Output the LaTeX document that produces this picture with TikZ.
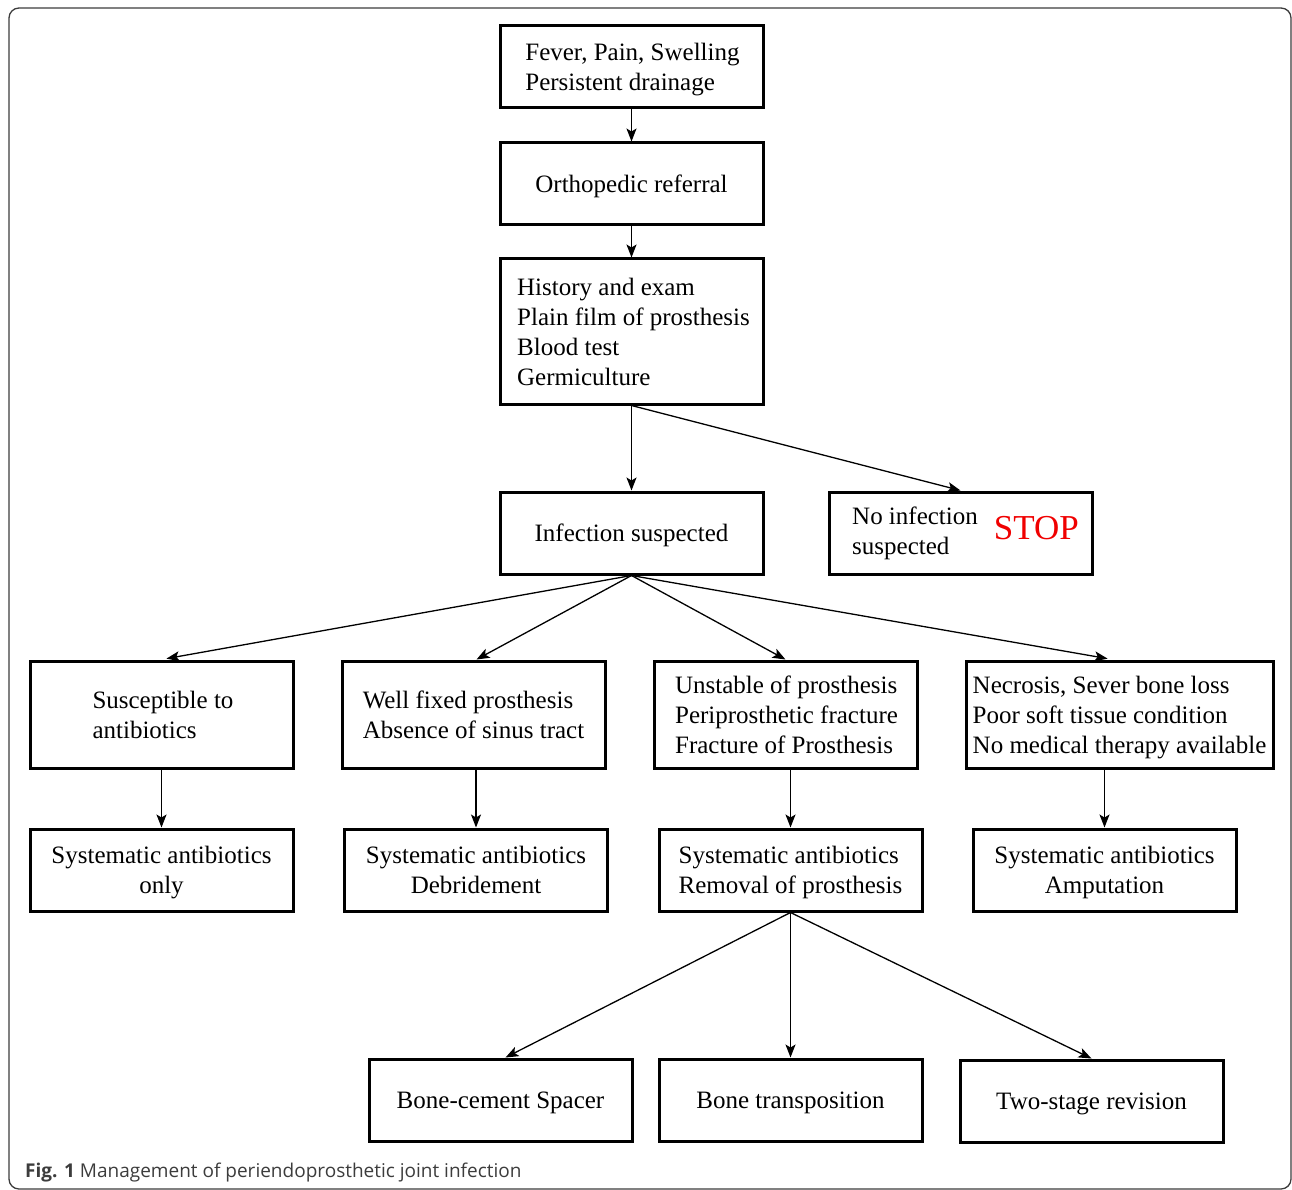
\documentclass[tikz,border=0pt]{standalone}
\usepackage{fontspec}
\setmainfont{Liberation Serif}
\newfontfamily\capfont{Open Sans}
\usetikzlibrary{arrows.meta}
\definecolor{stopred}{RGB}{240,0,0}
\definecolor{capgray}{RGB}{60,60,60}
\newcommand\bxs{\rule[-6.5pt]{0pt}{30pt}}
\tikzset{
  box/.style={draw, line width=3pt, minimum width=263pt, minimum height=82pt, inner sep=0pt,
    font=\fontsize{25}{30}\selectfont},
  tall/.style={minimum height=107pt},
  arr/.style={line width=1.3pt, -{Stealth[length=13pt,width=10pt,inset=3pt]}},
}
\begin{document}
\begin{tikzpicture}[x=1pt,y=-1pt]
\useasboundingbox (0,0) rectangle (1292,1190);
\draw[line width=1.3pt, capgray, rounded corners=10pt] (9,8) rectangle (1291,1189);

\node[box, align=left] (b1) at (631.5,67) {\bxs\hspace*{2pt}Fever, Pain, Swelling\\\hspace*{2pt}Persistent drainage\bxs};
\node[box] (b2) at (631.5,184) {\bxs Orthopedic referral};
\node[box, minimum height=145pt, align=left] (b3) at (631.5,331.5) {\bxs\hspace*{4pt}History and exam\\\hspace*{4pt}Plain film of prosthesis\\\hspace*{4pt}Blood test\\\hspace*{4pt}Germiculture\bxs};
\node[box] (b4) at (631.5,533) {\bxs Infection suspected};
\node[box] (b5) at (960.5,533) {\hspace*{10pt}\begin{tabular}[c]{@{}l@{}}No infection\\suspected\end{tabular}\hspace{16pt}{\fontsize{35}{35}\selectfont\color{stopred}STOP}};

\node[box, tall, align=left] (a) at (161.5,714.5) {\bxs\hspace*{3pt}Susceptible to\\\hspace*{3pt}antibiotics\bxs};
\node[box, tall, align=left] (b) at (473.5,714.5) {\bxs Well fixed prosthesis\\Absence of sinus tract\bxs};
\node[box, tall, align=left] (c) at (785.5,714.5) {\bxs\hspace*{2pt}Unstable of prosthesis\\\hspace*{2pt}Periprosthetic fracture\\\hspace*{2pt}Fracture of Prosthesis\bxs};
\node[box, tall, minimum width=307pt, align=left] (d) at (1119.5,714.5) {\bxs Necrosis, Sever bone loss\\Poor soft tissue condition\\No medical therapy available\bxs};

\node[box, align=center] (a2) at (161.5,870) {\bxs Systematic antibiotics\\only\bxs};
\node[box, align=center] (b2x) at (476,870) {\bxs Systematic antibiotics\\Debridement\bxs};
\node[box, align=left] (c2) at (790.5,870) {\bxs Systematic antibiotics\\Removal of prosthesis\bxs};
\node[box, align=center] (d2) at (1104.5,870) {\bxs Systematic antibiotics\\Amputation\bxs};

\node[box] (e) at (500.5,1100) {\bxs Bone-cement Spacer};
\node[box] (f) at (790.5,1100) {\bxs Bone transposition};
\node[box] (g) at (1091.5,1101) {\bxs Two-stage revision};

\draw[arr] (b1.south) -- (b2.north);
\draw[arr] (b2.south) -- (b3.north);
\draw[arr] (b3.south) -- (b4.north);
\draw[arr] (b3.south) -- (b5.north);

\draw[arr, shorten >=5pt] (b4.south) -- (a.north);
\draw[arr] (b4.south) -- ([xshift=3pt]b.north);
\draw[arr] (b4.south) -- (c.north);
\draw[arr, shorten >=5pt] (b4.south) -- ([xshift=-7pt]d.north);

\draw[arr] (a.south) -- (a2.north);
\draw[arr] (b2x.north |- b.south) -- (b2x.north);
\draw[arr] (c2.north |- c.south) -- (c2.north);
\draw[arr] (d2.north |- d.south) -- (d2.north);

\draw[arr] (c2.south) -- ([xshift=5pt]e.north);
\draw[arr] (c2.south) -- (f.north);
\draw[arr] (c2.south) -- (g.north);

\node[anchor=base west, inner sep=0pt, font=\capfont\fontsize{19}{21}\selectfont, text=capgray] (cap) at (25,1177) {\textbf{Fig. 1} Management of periendoprosthetic joint infection};
\end{tikzpicture}
\end{document}
